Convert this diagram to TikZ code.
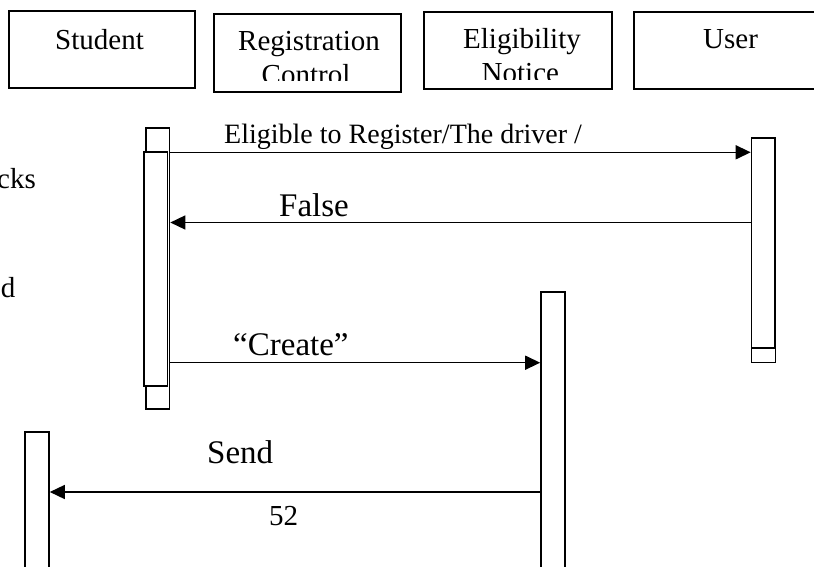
\documentclass[tikz,border=0pt]{standalone}
\usepackage{fontspec}
\setmainfont{Liberation Serif}
\usetikzlibrary{arrows.meta}
\begin{document}
\begin{tikzpicture}[x=1pt,y=-1pt,
  box/.style={draw, line width=1.6pt, fill=white, inner sep=0pt},
  txt/.style={inner sep=0pt, anchor=base west, font=\fontsize{29}{34}\selectfont},
  lbl/.style={inner sep=0pt, anchor=base west, font=\fontsize{28}{34}\selectfont},
  big/.style={inner sep=0pt, anchor=base west, font=\fontsize{33}{38}\selectfont},
  msg/.style={line width=1.5pt, -{Triangle[length=15pt,width=14pt]}},
]
\useasboundingbox (0,0) rectangle (814,567);

% header boxes
\node[box, minimum width=186pt, minimum height=77pt] (student) at (102,49.5) {};
\node[box, minimum width=187pt, minimum height=78pt] (regctl) at (307.5,53) {};
\node[box, minimum width=188pt, minimum height=77pt] (elig) at (518,50.5) {};
\node[box, minimum width=200pt, minimum height=77pt] (user) at (734,50.5) {};

\node[txt] (tstudent) at (55,49.5) {Student};
\begin{scope}
  \clip (215,15) rectangle (400,80.5);
  \node[txt] (treg) at (238,51) {Registration};
  \node[txt] (tctl) at (261.5,85) {Control};
\end{scope}
\begin{scope}
  \clip (425,13) rectangle (611,80);
  \node[txt] (telig) at (463,49) {Eligibility};
  \node[txt] (tnot) at (481.5,83) {Notice};
\end{scope}
\node[txt] (tuser) at (703,49) {User};

% cut-off texts at left edge (as in the reference)
\node[txt, anchor=base east] (tcks) at (36,189) {cks};
\node[txt, anchor=base east] (td) at (15.5,297) {d};

% activation bars
\node[box, minimum width=23.5pt, minimum height=281pt] (regouter) at (157.75,268.5) {};
\node[box, minimum width=23.5pt, minimum height=234pt] (reginner) at (155.75,269) {};
\node[box, minimum width=24pt, minimum height=224.5pt] (userouter) at (763.5,250.25) {};
\node[box, minimum width=23.5pt, minimum height=210pt] (userinner) at (763.25,243) {};
\node[box, minimum width=24pt, minimum height=288pt] (eligact) at (553,436) {};
\node[box, minimum width=24pt, minimum height=148pt] (studact) at (37,506) {};

% messages
\draw[msg] (regouter.east |- 0,152.3) -- (userouter.west |- 0,152.3);
\node[lbl] (l1) at (224,143) {Eligible to Register/The driver /};

\draw[msg] (userouter.west |- 0,222.5) -- (regouter.east |- 0,222.5);
\node[big] (l2) at (279,216) {False};

\draw[msg] (regouter.east |- 0,362.7) -- (eligact.west |- 0,362.7);
\node[big] (l3) at (233,355.5) {“Create”};

\draw[msg] (eligact.west |- 0,492) -- (studact.east |- 0,492);
\node[big] (l4) at (207,463) {Send};
\node[txt] (l5) at (269,525) {52};
\end{tikzpicture}
\end{document}
